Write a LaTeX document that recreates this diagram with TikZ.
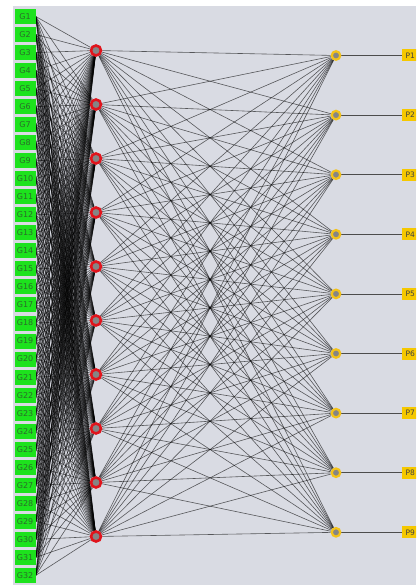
\documentclass[tikz,border=0pt]{standalone}
\usepackage{fontspec}
\setsansfont{DejaVu Sans}
\usetikzlibrary{positioning}
\definecolor{panel}{HTML}{D9DBE3}
\definecolor{gbox}{HTML}{1DE21D}
\definecolor{gtext}{HTML}{2B6B2B}
\definecolor{hring}{HTML}{E0141C}
\definecolor{pring}{HTML}{F3C21A}
\definecolor{pbox}{HTML}{F5C800}
\definecolor{core}{HTML}{858585}
\pgfdeclarelayer{bg}
\pgfdeclarelayer{edges}
\pgfsetlayers{bg,edges,main}

\begin{document}
\begin{tikzpicture}[x=1pt, y=-1pt,
    gene/.style={rectangle, fill=gbox, minimum width=21pt, minimum height=15pt, inner sep=0pt,
        font=\sffamily\fontsize{8}{9}\selectfont, text=gtext},
    hidden/.style={circle, draw=hring, line width=2.6pt, fill=core, minimum size=10pt, inner sep=0pt},
    outnode/.style={circle, draw=pring, line width=2.2pt, fill=core, minimum size=8.5pt, inner sep=0pt},
    tag/.style={rectangle, fill=pbox, minimum width=16pt, minimum height=12pt, inner sep=1pt,
        anchor=west, font=\sffamily\fontsize{7.5}{8}\selectfont, text=black!75},
    link/.style={black, opacity=0.6, line width=0.6pt}]
    \useasboundingbox (0,0) rectangle (416,585);
    \clip (0,0) rectangle (416,585);
    \begin{pgfonlayer}{bg}
        \fill[white] (0,0) rectangle (416,585);
        \fill[panel] (13,6) rectangle (416,585);
    \end{pgfonlayer}

    % input, hidden and output nodes
    \foreach \i in {1,...,32}
        \node[gene] (g\i) at (25, {16.5+(\i-1)*18.03}) {G\i};
    \foreach \j in {1,...,10}
        \node[hidden] (h\j) at (96, {50.5+(\j-1)*54}) {};
    \foreach \k in {1,...,9} {
        \node[outnode] (o\k) at (336, {55.5+(\k-1)*59.6}) {};
        \node[tag] (p\k) at (402, {55.5+(\k-1)*59.6}) {P\k};
    }

    % connections
    \begin{pgfonlayer}{edges}
        \foreach \i in {1,...,32}
            \foreach \j in {1,...,10}
                \draw[link] (g\i.east) -- (h\j);
        \foreach \j in {1,...,10}
            \foreach \k in {1,...,9}
                \draw[link] (h\j) -- (o\k);
        \foreach \k in {1,...,9}
            \draw[black!70, line width=0.7pt] (o\k) -- (p\k);
    \end{pgfonlayer}
\end{tikzpicture}
\end{document}
